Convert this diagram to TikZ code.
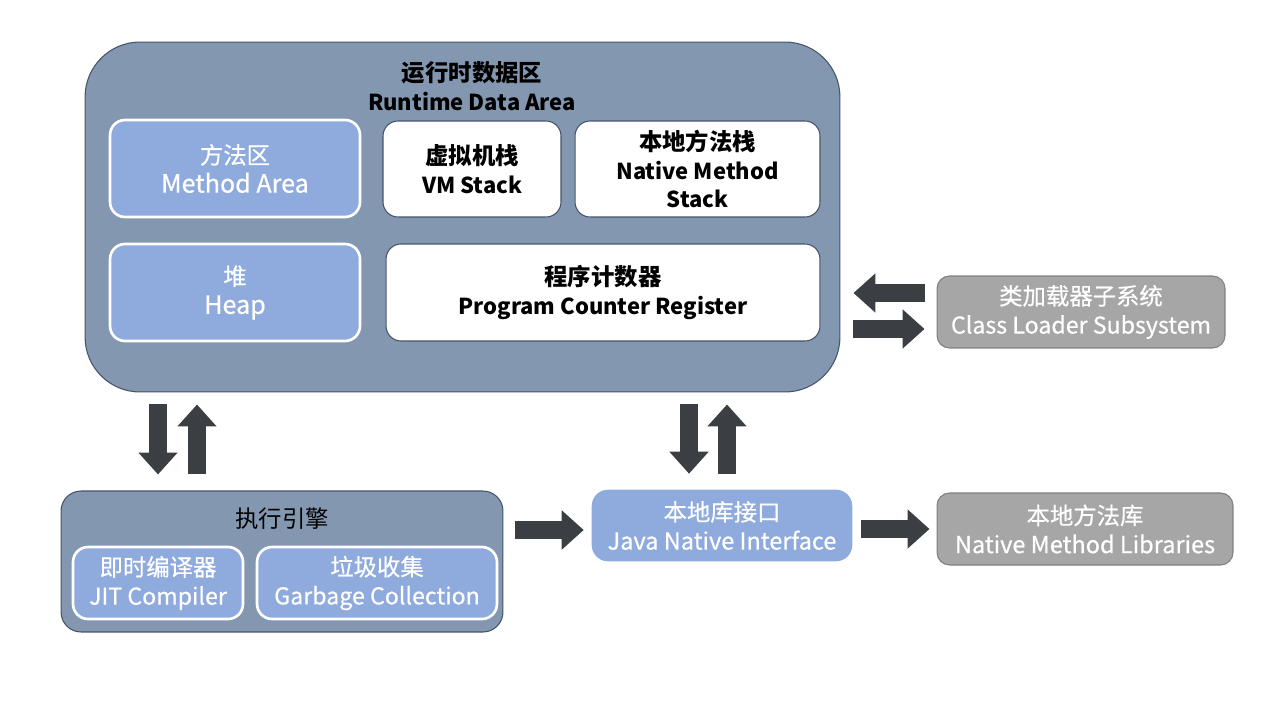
\documentclass[tikz,border=0pt]{standalone}
\usepackage{fontspec}
\setmainfont{Noto Sans CJK SC}
\newfontfamily\medfont[FakeBold=0.5]{Noto Sans CJK SC}
\usepackage{xcolor}
\usepackage{tikz}
\usetikzlibrary{arrows.meta}

\definecolor{slate}{HTML}{8497B0}
\definecolor{slateline}{HTML}{44546A}
\definecolor{paleblue}{HTML}{8FAADC}
\definecolor{greyfill}{HTML}{A6A6A6}
\definecolor{greyline}{HTML}{7F7F7F}
\definecolor{arrowgrey}{HTML}{3B3E43}

\newcommand{\boxsize}[1]{\fontsize{#1pt}{16.4pt}\selectfont}
\newcommand{\zh}[1]{{\boxsize{13.3}#1}}

\tikzset{
  areabox/.style={draw=slateline, fill=slate, line width=0.6pt, inner sep=0pt},
  bluebox/.style={draw=white, fill=paleblue, line width=1.5pt, rounded corners=0.3cm,
    text=white, align=center, font=\medfont\boxsize{13.2}, inner sep=0pt},
  whitebox/.style={draw=slateline, fill=white, line width=0.6pt, rounded corners=0.3cm,
    align=center, font=\boxsize{12.5}\bfseries, inner sep=0pt},
  greybox/.style={draw=greyline, fill=greyfill, line width=0.6pt, rounded corners=0.25cm,
    text=white, align=center, font=\medfont\boxsize{13.2}, inner sep=0pt},
  bigarrow/.style={draw=arrowgrey, line width=0.36cm, -{Triangle[length=0.44cm,width=0.76cm]}},
}

\begin{document}
\begin{tikzpicture}[x=0.02cm,y=-0.02cm]
\useasboundingbox (0,0) rectangle (1280,720);
% runtime data area
\node[areabox, rounded corners=1.1cm, minimum width=15.1cm, minimum height=7cm] (rda) at (462.5,217) {};
\node[align=center, font=\boxsize{12.5}\bfseries] (rdatitle) at (472,86) {\zh{运行时数据区}\\Runtime Data Area};
\node[bluebox, font=\medfont\boxsize{14.3}, minimum width=5cm, minimum height=1.94cm] (method) at (235,168.5) {\zh{方法区}\\Method Area};
\node[whitebox, minimum width=3.56cm, minimum height=1.92cm] (vmstack) at (472,169) {\zh{虚拟机栈}\\VM Stack};
\node[whitebox, minimum width=4.9cm, minimum height=1.92cm] (nstack) at (697.5,169) {\zh{本地方法栈}\\Native Method\\Stack};
\node[bluebox, font=\medfont\boxsize{14.3}, minimum width=5cm, minimum height=1.94cm] (heap) at (235,292.5) {\zh{堆}\\Heap};
\node[whitebox, minimum width=8.68cm, minimum height=1.94cm] (pcreg) at (603,292.5) {\zh{程序计数器}\\Program Counter Register};
% class loader
\node[greybox, minimum width=5.76cm, minimum height=1.44cm] (loader) at (1081,312) {\zh{类加载器子系统}\\Class Loader Subsystem};
% execution engine
\node[areabox, rounded corners=0.4cm, minimum width=8.84cm, minimum height=2.82cm] (engine) at (282,561.5) {};
\node[font=\boxsize{13.3}] (enginetitle) at (282,519) {执行引擎};
\node[bluebox, minimum width=3.4cm, minimum height=1.44cm] (jit) at (158,583) {\zh{即时编译器}\\JIT Compiler};
\node[bluebox, minimum width=4.8cm, minimum height=1.44cm] (gc) at (377,583) {\zh{垃圾收集}\\Garbage Collection};
% native side
\node[bluebox, draw=paleblue, font=\medfont\boxsize{13.4}, minimum width=5.16cm, minimum height=1.38cm] (jni) at (722,525.5) {\zh{本地库接口}\\Java Native Interface};
\node[greybox, font=\medfont\boxsize{13.4}, minimum width=5.92cm, minimum height=1.44cm] (libs) at (1085,529) {\zh{本地方法库}\\Native Method Libraries};

\coordinate (engup) at ([xshift=0.78cm]jit.north);
\coordinate (jnidown) at ([xshift=-0.66cm]jni.north);
\coordinate (jniup) at ([xshift=0.1cm]jni.north);
\coordinate (loadin) at ([yshift=0.38cm]loader.west);
\coordinate (loadout) at ([yshift=-0.34cm]loader.west);
\coordinate (jniin) at ([yshift=-0.09cm]jni.west);

\draw[bigarrow, shorten <=0.24cm, shorten >=0.32cm] (jit.north |- rda.south) -- (jit.north |- engine.north);
\draw[bigarrow, shorten <=0.32cm, shorten >=0.24cm] (engup |- engine.north) -- (engup |- rda.south);
\draw[bigarrow, shorten <=0.24cm, shorten >=0.32cm] (jnidown |- rda.south) -- (jnidown);
\draw[bigarrow, shorten <=0.32cm, shorten >=0.24cm] (jniup) -- (jniup |- rda.south);
\draw[bigarrow, shorten <=0.24cm, shorten >=0.26cm] (loadin) -- (loadin -| rda.east);
\draw[bigarrow, shorten <=0.26cm, shorten >=0.24cm] (loadout -| rda.east) -- (loadout);
\draw[bigarrow, shorten <=0.24cm, shorten >=0.16cm] (jniin -| engine.east) -- (jniin);
\draw[bigarrow, shorten <=0.18cm, shorten >=0.14cm] (jni.east |- libs.west) -- (libs.west);
\end{tikzpicture}
\end{document}
